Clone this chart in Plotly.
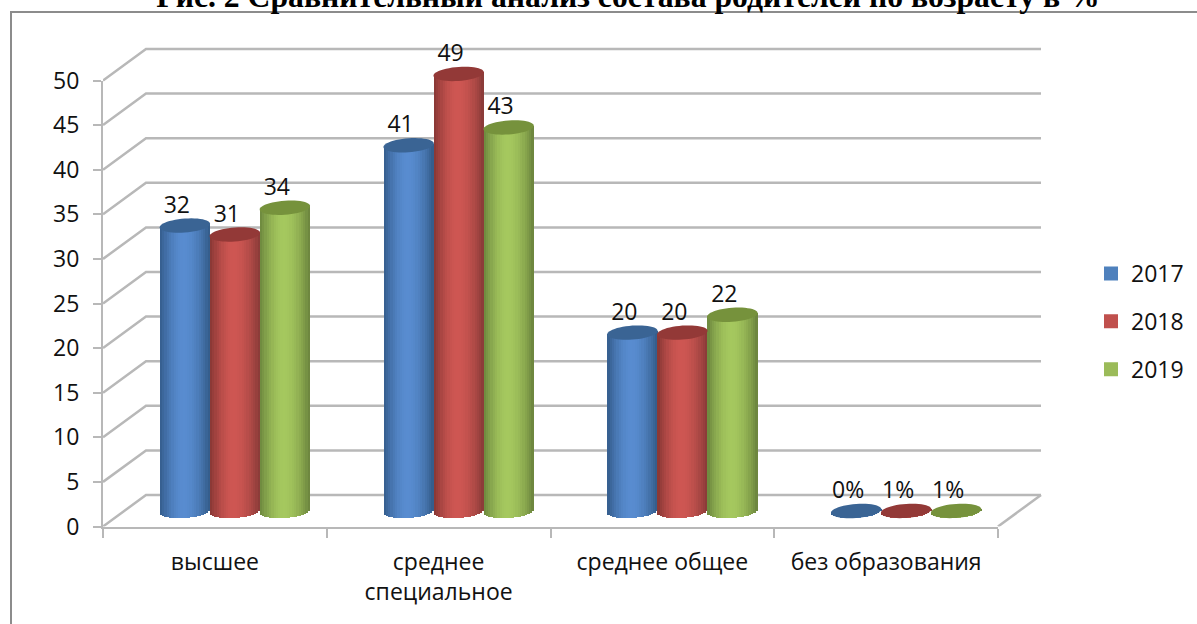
import math
import plotly.graph_objects as go

W, H = 1197, 624
categories = ["высшее", "среднее<br>специальное", "среднее общее", "без образования"]
years = ["2017", "2018", "2019"]
v2017 = [32, 41, 20, 0.0]
v2018 = [31, 49, 20, 0.01]
v2019 = [34, 43, 22, 0.01]
labels_2017 = ["32", "41", "20", "0%"]
labels_2018 = ["31", "49", "20", "1%"]
labels_2019 = ["34", "43", "22", "1%"]
y_ticks = list(range(0, 55, 5))
title = "Рис. 2 Сравнительный анализ состава родителей по возрасту в %"

series = [
    (years[0], v2017, labels_2017, "#4f81bd", (52, 92, 140), (88, 140, 208), (50, 90, 135), "#3a6494"),
    (years[1], v2018, labels_2018, "#c0504d", (135, 55, 52), (206, 86, 82), (135, 58, 55), "#933937"),
    (years[2], v2019, labels_2019, "#9bbb59", (108, 135, 62), (165, 200, 94), (105, 130, 60), "#76923c"),
]

FONT = "Open Sans"
FS = 23
GRID = "#b8b8b8"
PX_X = 895 / 4      # px per category
PX_Y = 446 / 50     # px per value unit
R_A, R_B, TILT = 25.2, 7.0, 0.07  # cylinder ellipse, px
N = 22
x_pos = [0, 1, 2, 3]
offsets = [-1.0, 0.0, 1.0]
bw = 50.0 / PX_X


def mix(a, b, t):
    return tuple(round(a[i] + (b[i] - a[i]) * t) for i in range(3))


def shade(left, mid, right, u):
    t = (u + 1) / 2
    c = 0.48
    if t < c:
        s = math.sin(t / c * math.pi / 2)
        return mix(left, mid, s)
    s = ((t - c) / (1 - c)) ** 1.8
    return mix(mid, right, s)


fig = go.Figure()

# keeps the visible front axes in the figure
fig.add_trace(go.Scatter(x=x_pos, y=[None] * 4, mode="lines", showlegend=False, hoverinfo="skip", xaxis="x", yaxis="y"))

# 3-D walls on an axis pair that is larger than the front axes
dx, dy = 43 / PX_X, 31.5 / PX_Y
gx, gy = [], []
for v in y_ticks:
    gx += [-0.5, -0.5 + dx, 3.5 + dx, None]
    gy += [v, v + dy, v + dy, None]
gx += [3.5, 3.5 + dx, None]
gy += [0, dy, None]
fig.add_trace(go.Scatter(x=gx, y=gy, mode="lines", cliponaxis=False, showlegend=False, hoverinfo="skip",
                         line=dict(color=GRID, width=2.5), xaxis="x2", yaxis="y2"))

shapes = []
shapes.append(dict(type="path", xref="paper", yref="paper",
                   path=f"M {11/W} 0 L {11/W} {1-12/H} L 1 {1-12/H}",
                   line=dict(color="#8c8c8c", width=2), layer="below"))

for s_i, (name, vals, labs, col, l, m, r, cap) in enumerate(series):
    xs = [x + offsets[s_i] * bw for x in x_pos]
    fig.add_trace(go.Bar(x=xs, y=vals, name=name, width=bw * 0.6, marker=dict(color=col, line=dict(color=col, width=2)),
                         xaxis="x3", yaxis="y3", legendgroup=name, hoverinfo="skip"))

for s_i, (name, vals, labs, col, l, m, r, cap) in enumerate(series):
    xs = [x + offsets[s_i] * bw for x in x_pos]
    for k in range(N):
        u0, u1 = -1 + 2 * k / N, -1 + 2 * (k + 1) / N
        u = (u0 + u1) / 2
        lift = TILT * R_A * u / PX_Y
        low = R_B * math.sqrt(max(0, 1 - u * u)) / PX_Y
        bases = [-low + lift] * 4
        tops = [v + lift - b for v, b in zip(vals, bases)]
        c = shade(l, m, r, u)
        fig.add_trace(go.Bar(x=xs, y=tops, base=bases, width=bw / N * 1.25, offset=u0 * bw / 2,
                             marker=dict(color=f"rgb{c}", line=dict(width=0)), showlegend=False,
                             xaxis="x3", yaxis="y3", hoverinfo="skip"))
    pts = []
    for j in range(49):
        t = 2 * math.pi * j / 48
        px = R_A * math.cos(t)
        py = R_B * math.sin(t) + TILT * px
        pts.append(("M" if j == 0 else "L") + f"{px:.2f},{py:.2f}")
    for x, v in zip(xs, vals):
        shapes.append(dict(type="path", xref="x3", yref="y3", xsizemode="pixel", ysizemode="pixel",
                           xanchor=x, yanchor=v, path=" ".join(pts) + " Z",
                           fillcolor=cap, line=dict(width=0), layer="above"))

for s_i, (name, vals, labs, col, l, m, r, cap) in enumerate(series):
    fig.add_trace(go.Scatter(x=[x + offsets[s_i] * bw - 8 / PX_X for x in x_pos], y=[v + 2.1 for v in vals],
                             text=labs, mode="text", textposition="middle center", cliponaxis=False,
                             textfont=dict(family=FONT, size=FS, color="#111111"), showlegend=False,
                             hoverinfo="skip", xaxis="x3", yaxis="y3"))

fig.update_layout(
    width=W, height=H, margin=dict(l=0, r=0, t=0, b=0, autoexpand=False), autosize=False,
    paper_bgcolor="white", plot_bgcolor="rgba(0,0,0,0)", barmode="overlay", bargap=0,
    font=dict(family=FONT, size=FS, color="#111111"),
    shapes=shapes,
    title=dict(text=f"<b>{title}</b>", x=628 / W, xanchor="center", xref="paper", y=1, yref="container",
               yanchor="bottom", pad=dict(b=-7),
               font=dict(family="Liberation Serif", size=31.7, color="black")),
    xaxis=dict(domain=[103 / W, 998 / W], range=[-0.5, 3.5], tickmode="array", tickvals=x_pos, ticktext=categories,
               ticks="", showgrid=False, zeroline=False, showline=True, linecolor=GRID, linewidth=2,
               ticklabelstandoff=14, anchor="y",
               minor=dict(tickmode="array", tickvals=[-0.5, 0.5, 1.5, 2.5, 3.5], ticks="outside", ticklen=9,
                          tickcolor=GRID, tickwidth=2, showgrid=False)),
    yaxis=dict(domain=[1 - 526.5 / H, 1 - 80.5 / H], range=[0, 50], tickmode="array", tickvals=y_ticks,
               ticks="outside", ticklen=8, tickcolor=GRID, tickwidth=2, showgrid=False, zeroline=False,
               showline=True, linecolor=GRID, linewidth=2, ticklabelstandoff=9, anchor="x"),
    # wall axes: same scale as the front axes, with room for the depth offset
    xaxis2=dict(domain=[103 / W, 1046 / W], range=[-0.5, 3.5 + 48 / PX_X], visible=False, anchor="y2"),
    yaxis2=dict(domain=[1 - 526.5 / H, 1 - 40.5 / H], range=[0, 486 / PX_Y], visible=False, anchor="x2"),
    # cylinder axes: same scale, moved half the depth into the chart
    xaxis3=dict(domain=[123 / W, 1018 / W], range=[-0.5, 3.5], visible=False, anchor="y3"),
    yaxis3=dict(domain=[1 - 526.5 / H, 1 - 30 / H], range=[(511 - 526.5) / PX_Y, (511 - 30) / PX_Y],
                visible=False, anchor="x3"),
    legend=dict(x=1091 / W, xanchor="left", y=1 - 252 / H, yanchor="top", bgcolor="rgba(0,0,0,0)",
                tracegroupgap=15, font=dict(family=FONT, size=FS, color="#111111"), traceorder="grouped"),
)

fig.write_html("out.html", config=dict(displayModeBar=False),
               post_script="document.body.style.margin='0';document.documentElement.style.overflow='hidden';")
